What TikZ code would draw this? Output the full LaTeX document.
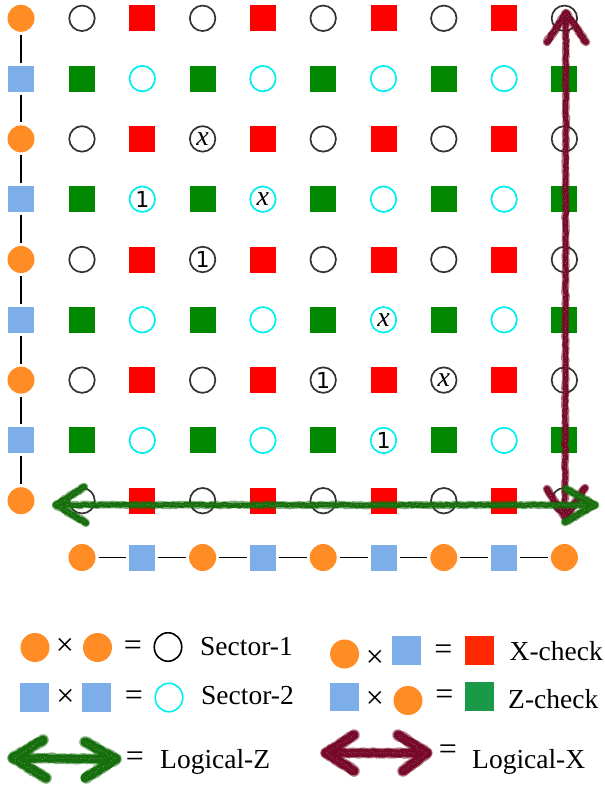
\documentclass[tikz,border=0pt]{standalone}
\usepackage{fontspec}
\setmainfont{Liberation Serif}
\newfontfamily\digitfont{DejaVu Sans}
\usetikzlibrary{shapes.geometric,decorations.pathmorphing}

\definecolor{qorange}{RGB}{255,140,36}
\definecolor{qblue}{RGB}{126,174,233}
\definecolor{xred}{RGB}{255,0,0}
\definecolor{zgreen}{RGB}{0,136,0}
\definecolor{sgray}{RGB}{51,51,51}
\definecolor{scyan}{RGB}{0,238,238}
\definecolor{keyred}{RGB}{255,40,0}
\definecolor{keygreen}{RGB}{26,154,72}
\definecolor{lzcol}{RGB}{22,110,12}
\definecolor{lxcol}{RGB}{118,10,40}

% a rough chalk stroke: fuzzy fringe, solid core, light speckles
\newcommand{\chalkpath}[3]{%
  \draw[draw=#1,line width=#2+2.6pt,opacity=0.55,line cap=round,line join=round,
        dash pattern=on 0.8pt off 1.3pt,rough] #3;
  \draw[draw=#1,line width=#2,line cap=round,line join=round,rough] #3;
  \draw[grain] #3;
}
\newcommand{\varx}{\fontsize{28}{30}\selectfont\textit{x}}
\newcommand{\one}{\digitfont\fontsize{22}{26}\selectfont 1}

\begin{document}
\begin{tikzpicture}[x=1pt,y=-1pt,
  qa/.style={circle,fill=qorange,minimum size=27pt,inner sep=0pt,outer sep=0pt},
  qb/.style={rectangle,fill=qblue,minimum size=26pt,inner sep=0pt,outer sep=0pt},
  sone/.style={circle,draw=sgray,line width=1.7pt,minimum size=25.5pt,inner sep=0pt},
  stwo/.style={sone,draw=scyan},
  xchk/.style={rectangle,fill=xred,minimum size=26pt,inner sep=0pt},
  zchk/.style={xchk,fill=zgreen},
  link/.style={line width=1.4pt,shorten <=3pt,shorten >=3pt},
  cellnum/.style={inner sep=0pt},
  rough/.style={decorate,decoration={random steps,segment length=2.5pt,amplitude=0.7pt}},
  grain/.style={draw=white,opacity=0.45,line width=0.7pt,
    dash pattern=on 0.5pt off 2.3pt,
    decorate,decoration={random steps,segment length=2pt,amplitude=1.4pt}},
  keytext/.style={anchor=base west,inner sep=0pt,font=\fontsize{27.5}{30}\selectfont},
  keysym/.style={inner sep=0pt,font=\fontsize{32}{34}\selectfont},
  kdot/.style={circle,fill=qorange,minimum size=29pt,inner sep=0pt},
  kbox/.style={rectangle,fill=qblue,minimum width=29pt,minimum height=28.5pt,inner sep=0pt},
  kring/.style={ellipse,draw=black,line width=1.6pt,minimum width=27.5pt,minimum height=28.5pt,inner sep=0pt},
  kcheck/.style={rectangle,minimum width=29pt,minimum height=29pt,inner sep=0pt},
]
\useasboundingbox (0,0) rectangle (605,785);
\fill[white] (0,0) rectangle (605,785);

% lattice of sector qubits and checks
\foreach \r in {0,...,8}{
  \foreach \c in {0,...,8}{
    \pgfmathtruncatemacro\kind{mod(\r,2)*2+mod(\c,2)}
    \ifcase\kind
      \node[sone] (g-\r-\c) at ({82+60.3*\c},{18.3+60.3*\r}) {};
    \or
      \node[xchk] (g-\r-\c) at ({82+60.3*\c},{18.3+60.3*\r}) {};
    \or
      \node[zchk] (g-\r-\c) at ({82+60.3*\c},{18.3+60.3*\r}) {};
    \or
      \node[stwo] (g-\r-\c) at ({82+60.3*\c},{18.3+60.3*\r}) {};
    \fi
  }
}

% entries written inside some of the qubits
\foreach \r/\c/\t in {2/2/\varx, 3/1/\one, 3/3/\varx, 4/2/\one,
                      5/5/\varx, 6/4/\one, 6/6/\varx, 7/5/\one}{
  \node[cellnum] (t-\r-\c) at (g-\r-\c) {\t};
}

% vertical chain of the first code
\foreach \r in {0,...,8}{
  \ifodd\r
    \node[qb] (l-\r) at (21,{18.3+60.3*\r}) {};
  \else
    \node[qa] (l-\r) at (21,{18.3+60.3*\r}) {};
  \fi
}
\foreach \r [evaluate=\r as \n using int(\r+1)] in {0,...,7}{
  \draw[link] (l-\r) -- (l-\n);
}

% horizontal chain of the second code
\foreach \c in {0,...,8}{
  \ifodd\c
    \node[qb] (b-\c) at ({82+60.3*\c},557.5) {};
  \else
    \node[qa] (b-\c) at ({82+60.3*\c},557.5) {};
  \fi
}
\foreach \c [evaluate=\c as \n using int(\c+1)] in {0,...,7}{
  \draw[link] (b-\c) -- (b-\n);
}

% logical X operator (vertical)
\coordinate (lx-a) at (566,13);
\coordinate (lx-b) at (565,518);
\chalkpath{lxcol}{5pt}{(lx-a) -- (lx-b)}
\chalkpath{lxcol}{6pt}{([shift={(-19,29)}]lx-a) -- (lx-a) -- ([shift={(20,29)}]lx-a)}
\chalkpath{lxcol}{6pt}{([shift={(-18,-29)}]lx-b) -- (lx-b) -- ([shift={(20,-30)}]lx-b)}

% logical Z operator (horizontal)
\coordinate (lz-a) at (56,505);
\coordinate (lz-b) at (595,505);
\chalkpath{lzcol}{5pt}{(lz-a) -- (lz-b)}
\chalkpath{lzcol}{6pt}{([shift={(28,-18)}]lz-a) -- (lz-a) -- ([shift={(30,18)}]lz-a)}
\chalkpath{lzcol}{6pt}{([shift={(-29,-16)}]lz-b) -- (lz-b) -- ([shift={(-30,17)}]lz-b)}

% key: products of qubits
\node[kdot] (k1a) at (35,647.5) {};
\node[keysym] (k1x) at (65,647) {×};
\node[kdot] (k1b) at (97.5,647.5) {};
\node[keysym] (k1e) at (133,648) {=};
\node[kring] (k1r) at (168,647) {};
\node[keytext] (k1t) at (200,655) {Sector-1};

\node[kbox] (k2a) at (34.7,697.5) {};
\node[keysym] (k2x) at (65.5,697.5) {×};
\node[kbox] (k2b) at (96.5,697.5) {};
\node[keysym] (k2e) at (134,698) {=};
\node[kring,draw=scyan] (k2r) at (169,697.5) {};
\node[keytext] (k2t) at (201,704) {Sector-2};

\node[kdot] (k3a) at (344.6,654) {};
\node[keysym] (k3x) at (375,659) {×};
\node[kbox] (k3b) at (406,650.5) {};
\node[keysym] (k3e) at (443.5,652) {=};
\node[kcheck,fill=keyred] (k3r) at (479.5,650.5) {};
\node[keytext] (k3t) at (509.5,660) {X-check};

\node[kbox] (k4a) at (344,697) {};
\node[keysym] (k4x) at (375,700) {×};
\node[kdot] (k4b) at (408,700.5) {};
\node[keysym] (k4e) at (444.5,697) {=};
\node[kcheck,fill=keygreen] (k4r) at (479.5,696.5) {};
\node[keytext] (k4t) at (508,708) {Z-check};

% key: logical operators
\coordinate (kz-a) at (13,758);
\coordinate (kz-b) at (116,759);
\chalkpath{lzcol}{8pt}{(kz-a) -- (kz-b)}
\chalkpath{lzcol}{9pt}{([shift={(30,-18)}]kz-a) -- (kz-a) -- ([shift={(33,20)}]kz-a)}
\chalkpath{lzcol}{9pt}{([shift={(-31,-17)}]kz-b) -- (kz-b) -- ([shift={(-31,19)}]kz-b)}
\node[keysym] (k5e) at (135,759) {=};
\node[keytext] (k5t) at (160,768) {Logical-Z};

\coordinate (kx-a) at (326,753);
\coordinate (kx-b) at (427,753);
\chalkpath{lxcol}{8pt}{(kx-a) -- (kx-b)}
\chalkpath{lxcol}{9pt}{([shift={(28,-18)}]kx-a) -- (kx-a) -- ([shift={(28,18)}]kx-a)}
\chalkpath{lxcol}{9pt}{([shift={(-29,-18)}]kx-b) -- (kx-b) -- ([shift={(-24,18)}]kx-b)}
\node[keysym] (k6e) at (448,752) {=};
\node[keytext] (k6t) at (472,768) {Logical-X};
\end{tikzpicture}
\end{document}
